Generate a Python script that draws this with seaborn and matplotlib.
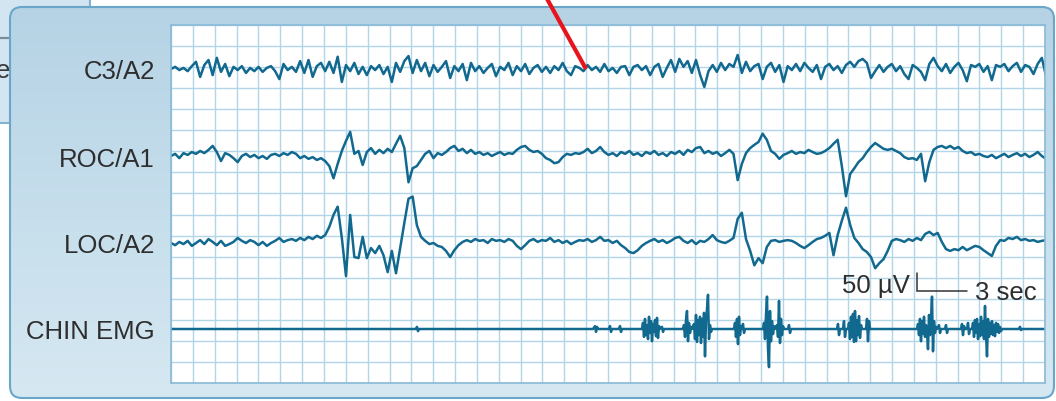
import numpy as np
import pandas as pd
import matplotlib
matplotlib.use("Agg")
import matplotlib.pyplot as plt
from matplotlib.patches import FancyBboxPatch, Rectangle
from matplotlib.colors import LinearSegmentedColormap
import seaborn as sns

sns.set_style("white")
plt.rcParams["font.family"] = ["Liberation Sans", "DejaVu Sans"]

# ---------------------------------------------------------------- data
channels = ["C3/A2", "ROC/A1", "LOC/A2", "CHIN EMG"]

# EEG / EOG channels, one sample every 0.25 s, amplitude in microvolts
eeg_dt = 0.25
c3_a2 = [
    0, 6, -3, 3, -6, 8, 20, -22, 11, 25,
    -17, 31, -8, 14, -20, 6, -3, 8, -11, 3,
    -6, 6, -8, 3, 8, -6, -28, 14, -3, 6,
    -8, 22, -11, 25, -22, 8, 17, -6, 20, -11,
    34, -36, 11, -6, 17, -14, 6, -17, 8, -3,
    11, -14, 6, -36, 17, -8, 22, 36, -11, 25,
    -6, 17, -20, 11, -8, 6, 22, -25, 8, -6,
    14, -31, 17, -6, 8, -11, 3, 14, -20, 6,
    -3, 17, -17, 8, -6, 14, -14, 3, 11, -8,
    6, -11, 8, -3, 17, -6, -17, 8, 3, -6,
    11, -3, 6, -8, 14, -6, 3, -11, 6, 8,
    -17, 6, 11, -3, 8, -17, 6, 14, -22, 3,
    25, -8, 28, 6, 22, -11, 25, -17, -50, -6,
    11, -8, 17, -3, 14, 6, 39, -11, 20, -6,
    8, 14, -28, 6, 17, -8, 11, -36, 8, -3,
    14, -6, 17, 3, -8, 11, -28, 6, 14, -3,
    8, -11, 11, 20, 6, 22, 28, 17, -25, -6,
    11, -8, 6, 14, -6, 8, -14, -28, 11, 3,
    -8, -31, 14, 31, 8, -6, 14, -11, 6, 17,
    -3, -34, 11, 6, 14, -8, 8, -31, 11, 6,
    14, -6, 8, 17, -8, 11, 6, -14, 14, 31, -20,
]
roc_a1 = [
    0, 6, -6, 8, 3, 11, 6, 14, 8, 17,
    28, 11, -14, 8, 3, -6, -17, 0, 6, -3,
    3, -6, 0, -8, 3, 6, 0, 8, 3, 11,
    6, -6, 0, -8, -3, -11, -6, -14, -28, -62,
    -22, 14, 42, 67, 6, 14, -25, 11, 22, 6,
    17, 8, 20, 11, 34, 56, 22, -73, -34, -28,
    -11, 6, 14, -6, 8, 3, 11, 22, 28, 14,
    20, 8, 17, 6, 11, 3, 8, 0, 6, 11,
    3, 8, 6, 17, 25, 28, 17, 11, 14, 6,
    -6, -11, -20, -17, -3, 6, 3, 8, 6, 11,
    20, 8, 14, 25, 11, 3, 8, 0, 11, 6,
    14, 3, 8, 0, 11, 6, 14, 3, 8, 0,
    11, 6, 14, 3, 17, 11, 22, 25, 8, 14,
    6, 11, 0, 8, 17, 6, -67, -22, 8, 22,
    31, 39, 62, 45, 14, 6, -8, 3, 8, 14,
    6, 11, 8, 17, 11, 6, 8, 14, 22, 34,
    45, -28, -112, -50, -34, -17, -6, 11, 25, 36,
    28, 20, 17, 20, 14, 8, -3, -8, -6, -11,
    6, -70, -17, 17, 25, 28, 22, 28, 20, 25,
    14, 8, 11, 3, 6, 0, -3, 3, -6, 0,
    6, -3, 3, 8, 0, 6, -3, 3, 11, 0, -8,
]
loc_a2 = [
    0, -6, 3, -3, 6, -8, 0, 8, -3, 11,
    3, -6, 6, -8, -3, 3, 14, 6, 0, 8,
    3, -6, 3, -8, 0, 6, 14, 3, 8, 11,
    6, 14, 8, 17, 11, 20, 14, 22, 45, 78,
    101, 14, -92, 78, -39, -42, 17, -42, -14, -28,
    -8, -34, -81, -22, -84, -14, 56, 123, 129, 50,
    17, 6, -3, 0, -8, -11, -22, -39, -20, -6,
    3, 8, 3, 11, 6, 8, 0, 11, 6, 8,
    3, 11, 6, -8, -17, -6, 6, 11, 3, 8,
    6, 14, 3, 8, 0, 6, -3, 3, 8, 6,
    11, 3, 8, 17, 6, 8, 0, 6, -6, -14,
    -25, -28, -20, -8, 0, 6, 11, 3, 8, 0,
    6, 14, 17, 6, 0, 8, -3, 6, 3, 11,
    22, 8, 3, 0, 6, 14, 67, 84, 11, -22,
    -62, -42, -56, -11, 6, 8, 3, 6, 8, 6,
    0, -8, -14, -6, 3, 11, 14, 20, 28, -34,
    22, 62, 98, 50, 14, 0, -17, -25, -39, -70,
    -56, -45, -22, 6, 11, 8, 3, 11, 6, 14,
    8, 25, 31, 22, 28, 3, -17, -22, -17, -20,
    -11, -20, -14, -8, -11, -20, -28, -36, -8, 8,
    6, 14, 11, 17, 8, 11, 6, 8, 3, 6, 8,
]

# chin EMG: sample numbers (0.06 s step) and amplitude in microvolts
emg_dt = 0.06
emg_n = [
    0, 245, 246, 247, 248,
    422, 424, 425, 426, 427, 438, 439, 440, 441, 448, 449, 450, 451,
    471, 472, 473, 474, 475, 476, 477, 478, 479, 480, 481, 482, 483, 484,
    485, 486, 487, 488, 489, 491, 492, 493,
    512, 513, 514, 515, 516, 517, 518, 519, 520, 521, 523, 524, 525, 526,
    527, 528, 529, 530, 531, 532, 533, 534, 535, 536, 537, 538, 539, 540, 541,
    563, 564, 565, 566, 567, 568, 569, 570, 571, 572, 573, 574,
    592, 593, 594, 595, 596, 597, 598, 599, 600, 601, 602, 603, 604,
    606, 607, 608, 609, 610, 611, 612, 613,
    617, 618, 619, 620,
    666, 667, 668, 669, 672, 673, 674, 675, 677, 678, 679, 680, 681, 682,
    683, 684, 685, 686, 687, 688, 689, 690, 691, 695, 696, 697, 698, 699,
    746, 747, 748, 749, 750, 751, 752, 753, 754, 755, 756, 757, 758, 759,
    760, 761, 762, 763, 764, 765, 766, 768, 769, 770, 774, 775, 776, 777,
    790, 791, 792, 793, 794, 796, 797, 798, 799,
    801, 802, 803, 804, 805, 806, 807, 808, 809, 810, 811, 812, 813, 814,
    815, 816, 817, 818, 819, 820, 821, 822, 823, 824, 825, 826, 827, 828,
    829, 830, 831,
    848, 849, 850, 851, 875,
]
emg_uv = [
    0, 0, 6, -6, 0,
    0, 8, -8, 6, 0, 0, 8, -8, 0, 0, 8, -8, 0,
    0, 17, -22, 28, -17, 11, -28, 34, -11, 22, -34, 14, -8, 25,
    -20, 31, -25, 8, 0, 6, -8, 0,
    0, 11, -22, 25, 50, -34, 17, -11, 6, 0, 14, -28, 39, -36,
    25, -17, 34, -39, 28, -22, 45, -76, 22, 56, 95, -28, 11, -8, 0,
    0, 17, -22, 28, -42, 34, -17, 8, 0, 14, -11, 0,
    0, 17, -28, 39, 90, -56, -106, 50, -34, 22, -14, 8, 0,
    11, -22, 78, -39, 28, -17, 8, 0,
    0, 11, -11, 0,
    0, 14, -17, 0, 0, 22, -22, 0, 0, 17, -28, 34, -22, 42,
    -36, 50, -34, 25, -17, 36, -25, 11, 0, 0, 28, -34, 22, 0,
    0, 14, -17, 28, -34, 22, -14, 34, -22, 11, -8, -56, 39, -17,
    28, 90, -62, 22, -11, 6, 0, 11, -11, 0, 0, 11, -11, 0,
    0, 14, -17, 8, 0, 0, 17, -14, 0,
    0, 17, -22, 25, -11, 28, -28, 14, -20, 34, -17, 22, -28, 64,
    -14, -76, 28, -22, 17, -14, 22, -17, 11, -20, 17, -8, 14, -11,
    6, -6, 0,
    0, 6, -3, 0, 0,
]

scale_uv = 50     # calibration bar, microvolts
scale_sec = 3     # calibration bar, seconds

# ---------------------------------------------------------------- layout
W, H = 1056, 401
uv_per_px = scale_uv / 18.0
sec_per_px = scale_sec / 50.0
grid_left, grid_right, grid_top, grid_bottom = 171, 1045, 25, 383
x_max = (grid_right - grid_left) * sec_per_px
y_min = -(grid_bottom - grid_top) * uv_per_px
baseline_px = [69, 156, 243, 329]
offsets = [-(b - grid_top) * uv_per_px for b in baseline_px]

trace_color = "#12698f"
text_color = "#2e2e2e"

frames = []
for name, values, off in zip(channels[:3], [c3_a2, roc_a1, loc_a2], offsets[:3]):
    v = np.asarray(values, dtype=float)
    frames.append(pd.DataFrame({"t": np.arange(len(v)) * eeg_dt,
                                "uv": v + off, "channel": name}))
frames.append(pd.DataFrame({"t": np.asarray(emg_n) * emg_dt,
                            "uv": np.asarray(emg_uv, dtype=float) + offsets[3],
                            "channel": channels[3]}))
df = pd.concat(frames, ignore_index=True)

fig = plt.figure(figsize=(W / 100, H / 100), dpi=100)
fig.patch.set_facecolor("white")

# backdrop drawn in pixel units (y grows downward)
bg = fig.add_axes([0, 0, 1, 1], zorder=0)
bg.axis("off")

bg.add_patch(Rectangle((-5, -5), 95, 128, facecolor="#d2e5f0",
                       edgecolor="#7fb4d2", lw=1.5, zorder=1))
bg.plot([-2, 9], [38, 38], color="#7d8d97", lw=1.6, zorder=1)
bg.text(10, 78, "e", ha="right", va="baseline", fontsize=18.5,
        color="#3a3a3a", zorder=1)

panel = FancyBboxPatch((10, 7), 1044, 391,
                       boxstyle="round,pad=0,rounding_size=12",
                       facecolor="none", edgecolor="#6aa6c9", lw=1.5, zorder=3)
bg.add_patch(panel)
cmap = LinearSegmentedColormap.from_list("panel", ["#b5d3e5", "#d6e8f2"])
grad = np.linspace(0, 1, 256).reshape(-1, 1)
im = bg.imshow(grad, extent=[10, 1054, 398, 7], cmap=cmap, aspect="auto", zorder=2)
im.set_clip_path(panel)

for name, b in zip(channels, [79, 167, 253, 339]):
    bg.text(155, b, name, ha="right", va="baseline", fontsize=18.5,
            color=text_color, zorder=4)
bg.set_xlim(0, W)
bg.set_ylim(H, 0)

# recording grid
ax = fig.add_axes([grid_left / W, 1 - grid_bottom / H,
                   (grid_right - grid_left) / W, (grid_bottom - grid_top) / H],
                  zorder=1)
ax.set_facecolor("white")
sns.lineplot(data=df, x="t", y="uv", hue="channel", palette=[trace_color] * 4,
             estimator=None, errorbar=None, sort=False, legend=False,
             linewidth=1.8, solid_joinstyle="round", ax=ax)

# calibration bar
t0 = (917 - grid_left) * sec_per_px
v0 = -(291 - grid_top) * uv_per_px
ax.plot([t0, t0, t0 + scale_sec], [v0 + scale_uv, v0, v0],
        color="#333333", lw=1.1, solid_joinstyle="miter")
ax.text(t0 - 7 * sec_per_px, v0 - 2 * uv_per_px, f"{scale_uv} \u00b5V",
        ha="right", va="baseline", fontsize=18.5, color=text_color)
ax.text(t0 + scale_sec + 8 * sec_per_px, v0 - 9 * uv_per_px, f"{scale_sec} sec",
        ha="left", va="baseline", fontsize=18.5, color=text_color)

ax.set_xlim(0, x_max)
ax.set_ylim(y_min, 0)
ax.set_xticks(np.linspace(0, x_max, 41))
ax.set_yticks(np.linspace(y_min, 0, 18))
ax.grid(True, color="#b2d5e7", lw=1.0)
ax.set_axisbelow(True)
ax.tick_params(length=0, labelbottom=False, labelleft=False)
ax.set_xlabel("")
ax.set_ylabel("")
for s in ax.spines.values():
    s.set_color("#88bbd7")
    s.set_linewidth(1.2)

# red pointer on top
ov = fig.add_axes([0, 0, 1, 1], zorder=5)
ov.axis("off")
ov.plot([546, 586], [-3, 69], color="#e8141c", lw=3, solid_capstyle="butt")
ov.set_xlim(0, W)
ov.set_ylim(H, 0)

fig.savefig("out.png", dpi=100, facecolor="white")
